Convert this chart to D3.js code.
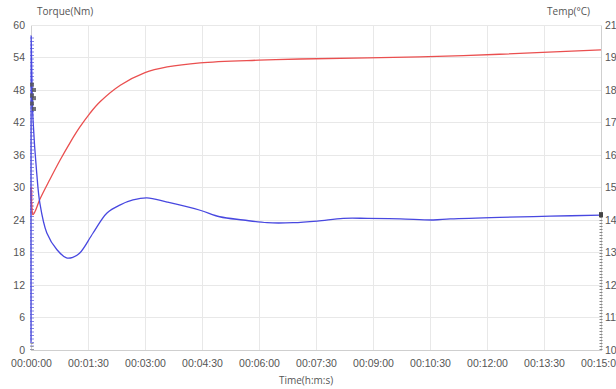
<!DOCTYPE html>
<html>
<head>
<meta charset="utf-8">
<script src="https://cdn.jsdelivr.net/npm/d3@7/dist/d3.min.js"></script>
<style>
html,body{margin:0;padding:0;background:#fff;overflow:hidden;}
svg{display:block;font-family:"Open Sans","DejaVu Sans",sans-serif;}
</style>
</head>
<body>
<svg id="chart" width="616" height="389"></svg>
<script>
// Torque series (time in seconds, torque in Nm)
const torqueTime = [0, 0.3, 1, 2, 3.2, 9, 14, 25, 41, 56, 66, 77, 98, 120, 141, 161, 183, 215, 267, 298, 335, 373, 414, 452, 493, 531, 583, 635, 662, 740, 820, 900];
const torqueValue = [1.5, 58, 53, 47, 42.5, 32.7, 27.1, 21.6, 18.5, 17.0, 17.1, 17.9, 21.6, 25.3, 26.8, 27.7, 28.1, 27.3, 25.8, 24.6, 24.0, 23.5, 23.5, 23.8, 24.3, 24.3, 24.2, 24.0, 24.2, 24.5, 24.7, 24.9];
// Temperature series (time in seconds, temperature in °C)
const tempTime = [0, 1, 3, 6, 14, 30, 46, 62, 77, 93, 109, 141, 180, 215, 267, 360, 425, 614, 740, 900];
const tempValue = [155, 149.5, 145.8, 146.7, 151, 157.8, 164.3, 170.3, 175.4, 180.1, 184.0, 189.6, 193.9, 195.8, 197.2, 198.1, 198.5, 199.2, 200.1, 201.6];
// Axis ticks
const timeTicks = [0, 90, 180, 270, 360, 450, 540, 630, 720, 810, 900];
const timeLabels = ["00:00:00","00:01:30","00:03:00","00:04:30","00:06:00","00:07:30","00:09:00","00:10:30","00:12:00","00:13:30","00:15:00"];
const torqueTicks = [0, 6, 12, 18, 24, 30, 36, 42, 48, 54, 60];
const tempTicks = [100, 111, 122, 133, 144, 155, 166, 177, 188, 199, 210];
// Marker points on the torque curve
const markerTorque = [49, 48, 47, 46.5, 45.5, 44.5];

const svg = d3.select("#chart");
const m = {left: 31, right: 15, top: 25, bottom: 39};
const W = 616, H = 389;
const x = d3.scaleLinear().domain([0, 900]).range([m.left, W - m.right]);
const yL = d3.scaleLinear().domain([0, 60]).range([H - m.bottom, m.top]);
const yR = d3.scaleLinear().domain([100, 210]).range([H - m.bottom, m.top]);

const grid = "#e8e8e8", axisCol = "#cfcfcf", txt = "#555";

// gridlines
svg.append("g").selectAll("line").data(torqueTicks).join("line")
  .attr("x1", m.left).attr("x2", W - m.right)
  .attr("y1", d => yL(d)).attr("y2", d => yL(d))
  .attr("stroke", grid).attr("stroke-width", 1).attr("shape-rendering","crispEdges");
svg.append("g").selectAll("line").data(timeTicks).join("line")
  .attr("y1", m.top).attr("y2", H - m.bottom)
  .attr("x1", d => x(d)).attr("x2", d => x(d))
  .attr("stroke", grid).attr("stroke-width", 1).attr("shape-rendering","crispEdges");

// axes
const xAxis = d3.axisBottom(x).tickValues(timeTicks).tickFormat((d,i) => timeLabels[i]).tickSize(0).tickPadding(10);
const gx = svg.append("g").attr("transform", `translate(0,${H - m.bottom})`).call(xAxis);
const yAxisL = d3.axisLeft(yL).tickValues(torqueTicks).tickSize(0).tickPadding(6);
const gl = svg.append("g").attr("transform", `translate(${m.left},0)`).call(yAxisL);
const yAxisR = d3.axisRight(yR).tickValues(tempTicks).tickSize(0).tickPadding(4);
const gr = svg.append("g").attr("transform", `translate(${W - m.right},0)`).call(yAxisR);
[gx, gl, gr].forEach(g => {
  g.select(".domain").attr("stroke", axisCol).attr("shape-rendering","crispEdges");
  g.selectAll("text").attr("fill", txt).style("font-size", "10.5px");
});
gr.selectAll("text").attr("text-anchor", "start");

// axis titles
svg.append("text").attr("x", 37).attr("y", 15).attr("fill", txt).style("font-size","10px").text("Torque(Nm)");
svg.append("text").attr("x", 590).attr("y", 15).attr("text-anchor","end").attr("fill", txt).style("font-size","10px").text("Temp(°C)");
svg.append("text").attr("x", 306).attr("y", 384).attr("text-anchor","middle").attr("fill", txt).style("font-size","10px").text("Time(h:m:s)");

// decorative dashed verticals at start and end
svg.append("line").attr("x1", x(0)+1).attr("x2", x(0)+1).attr("y1", yL(0)).attr("y2", yL(58))
  .attr("stroke", "#8a8ae8").attr("stroke-width", 4).attr("stroke-dasharray", "1,2.5");
svg.append("line").attr("x1", x(0)+1).attr("x2", x(0)+1).attr("y1", yL(0)).attr("y2", yL(1.5))
  .attr("stroke", "#999").attr("stroke-width", 3).attr("stroke-dasharray", "1,2");
svg.append("line").attr("x1", x(900)).attr("x2", x(900)).attr("y1", yL(0)).attr("y2", yL(24.9))
  .attr("stroke", "#888").attr("stroke-width", 3).attr("stroke-dasharray", "1,2");
svg.append("line").attr("x1", x(0)+0.5).attr("x2", x(0)+0.5).attr("y1", yR(155)).attr("y2", yR(145.8))
  .attr("stroke", "#e66").attr("stroke-width", 3).attr("stroke-dasharray", "1,2");

// temperature line
const lineT = d3.line().x((d,i) => x(tempTime[i])).y(d => yR(d)).curve(d3.curveCatmullRom.alpha(0.5));
svg.append("path").datum(tempValue).attr("d", lineT)
  .attr("fill","none").attr("stroke","#ea4f4f").attr("stroke-width",1.3);

// torque line
const lineQ = d3.line().x((d,i) => x(torqueTime[i])).y(d => yL(d)).curve(d3.curveCatmullRom.alpha(0.5));
svg.append("path").datum(torqueValue).attr("d", lineQ)
  .attr("fill","none").attr("stroke","#4848e0").attr("stroke-width",1.3);

// markers
svg.append("g").selectAll("rect").data(markerTorque).join("rect")
  .attr("x", (d,i) => x(0) - 1 + (i % 2) * 2).attr("y", d => yL(d) - 2)
  .attr("width", 4).attr("height", 4).attr("fill", "#555").attr("opacity", 0.8);
svg.append("rect").attr("x", x(900) - 2).attr("y", yL(24.9) - 3).attr("width", 4).attr("height", 5).attr("fill", "#444");
</script>
</body>
</html>
